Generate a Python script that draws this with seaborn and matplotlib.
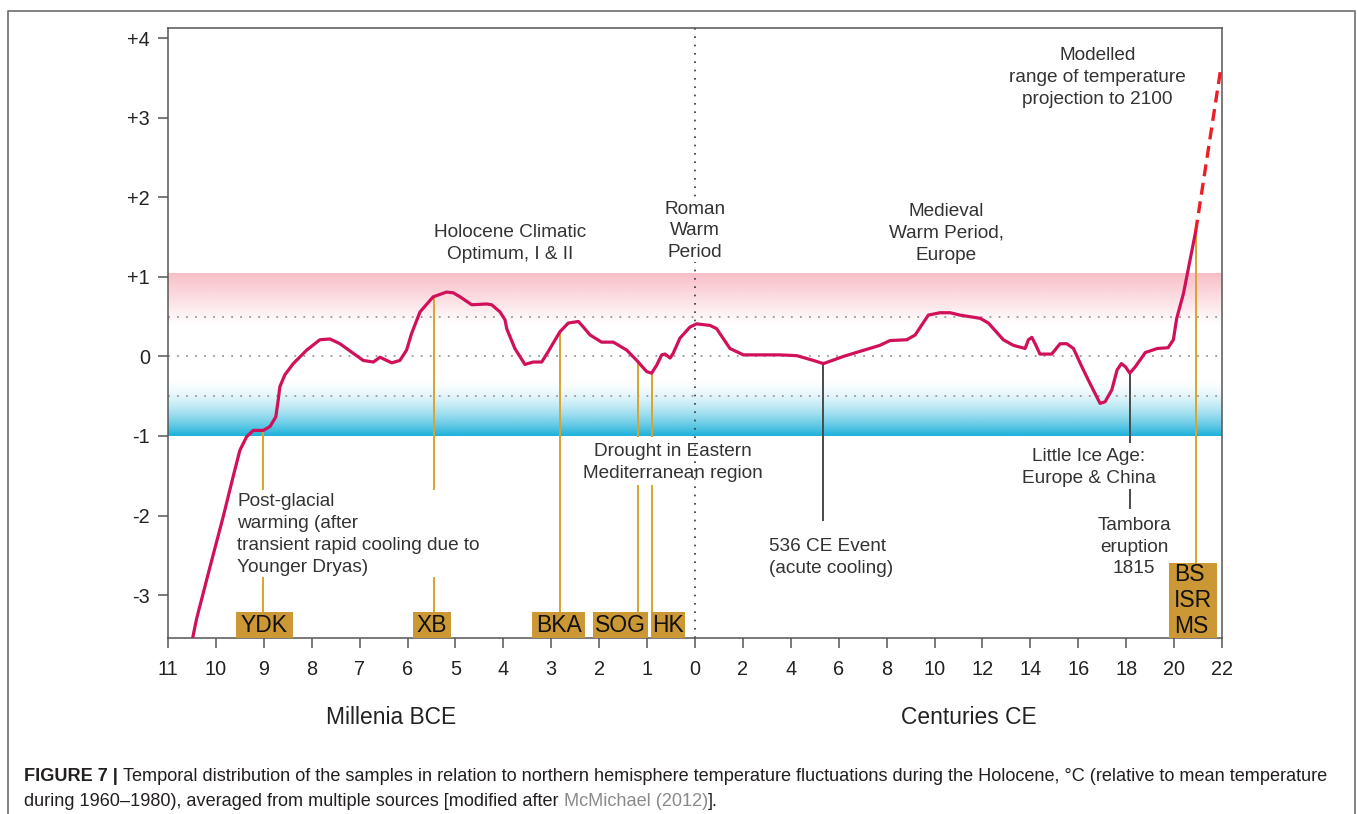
import numpy as np
import pandas as pd
import matplotlib
matplotlib.use("Agg")
import matplotlib.pyplot as plt
from matplotlib.path import Path
from matplotlib import font_manager
import seaborn as sns

# ---------------------------------------------------------------------------
# Data: northern-hemisphere temperature anomaly (°C, relative to the
# 1960–1980 mean). Years BCE are negative.
# ---------------------------------------------------------------------------
years = [-10540, -10400, -10125, -9850, -9640, -9500, -9360, -9220, -9010,
         -8870, -8750, -8700, -8665, -8560, -8385, -8105, -7830, -7620,
         -7410, -7135, -6925, -6715, -6575, -6330, -6160, -6020, -5915,
         -5740, -5465, -5185, -5045, -4905, -4660, -4350, -4245, -4070,
         -3965, -3930, -3760, -3550, -3375, -3200, -3065, -2820, -2645,
         -2435, -2330, -2190, -1950, -1705, -1425, -1215, -1010, -905,
         -800, -695, -625, -520, -455, -315, -105,
         7, 63, 90, 146, 202, 355, 425, 494, 536, 619, 772, 814, 884, 919,
         974, 1023, 1065, 1106, 1190, 1225, 1287, 1329, 1378, 1392, 1406,
         1420, 1440, 1489, 1524, 1552, 1580, 1615, 1649, 1691, 1712, 1740,
         1762, 1780, 1797, 1815, 1838, 1880, 1930, 1975, 1997, 2011, 2039,
         2090]
temps = [-3.70, -3.29, -2.65, -2.02, -1.51, -1.18, -1.01, -0.93, -0.93,
         -0.88, -0.76, -0.55, -0.38, -0.23, -0.09, 0.08, 0.21, 0.22,
         0.16, 0.04, -0.05, -0.07, -0.01, -0.08, -0.05, 0.08, 0.29,
         0.56, 0.75, 0.81, 0.80, 0.75, 0.65, 0.66, 0.65, 0.56,
         0.46, 0.35, 0.10, -0.10, -0.07, -0.07, 0.06, 0.31, 0.42,
         0.44, 0.37, 0.27, 0.18, 0.18, 0.08, -0.05, -0.19, -0.21,
         -0.11, 0.02, 0.03, -0.02, 0.04, 0.23, 0.37,
         0.41, 0.39, 0.35, 0.10, 0.02, 0.02, 0.01, -0.05, -0.09, 0.00, 0.14,
         0.20, 0.21, 0.27, 0.52, 0.55, 0.55, 0.52, 0.48, 0.42, 0.21, 0.14,
         0.10, 0.21, 0.24, 0.16, 0.03, 0.03, 0.16, 0.16, 0.10, -0.13, -0.34,
         -0.59, -0.57, -0.42, -0.17, -0.09, -0.13, -0.21, -0.13, 0.05, 0.10,
         0.11, 0.21, 0.48, 0.79, 1.57]

# Modelled projection
proj_years = [2090, 2195]
proj_temps = [1.57, 3.62]

# Samples and their ages
sample_labels = ["YDK", "XB", "BKA", "SOG", "HK", "BS\nISR\nMS"]
sample_years = [-9010, -5450, -2820, -1180, -890, 2090]

# 536 CE event and the Tambora eruption
event_years = [536, 1815]

bce_ticks = list(range(-11000, 1, 1000))
ce_ticks = list(range(200, 2201, 200))
x_tick_labels = [str(-y // 1000) for y in bce_ticks] + [str(y // 100) for y in ce_ticks]
y_ticks = [4, 3, 2, 1, 0, -1, -2, -3]
y_tick_labels = ["+4", "+3", "+2", "+1", "0", "-1", "-2", "-3"]


# Time axis: millennia before 0, centuries after it, at the same width per unit
def to_axis(y):
    y = np.asarray(y, dtype=float)
    return np.where(y < 0, y / 1000.0, y / 200.0)


def from_axis(u):
    u = np.asarray(u, dtype=float)
    return np.where(u < 0, u * 1000.0, u * 200.0)


sns.set_theme(style="ticks")
plt.rcParams["font.family"] = ["Liberation Sans", "DejaVu Sans"]

W, H = 1357, 814
fig = plt.figure(figsize=(W / 100, H / 100), dpi=100)
fig.patch.set_facecolor("white")


def fx(px):
    return px / W


def fy(py):
    return 1 - py / H


ax = fig.add_axes([fx(168), fy(638), fx(1222) - fx(168), fy(28) - fy(638)])
ax.set_facecolor("white")
ax.set_xscale("function", functions=(to_axis, from_axis))

YMIN, YMAX = -3.54, 4.13


# Warm / cold shading
def gradient_band(lo, hi, rgb, power, solid_top):
    t = np.linspace(0, 1, 300)
    alpha = t ** power if solid_top else (1 - t) ** power
    img = np.zeros((300, 2, 4))
    img[..., :3] = rgb
    img[..., 3] = alpha[:, None]
    ax.imshow(img, extent=[0, 1, lo, hi], origin="lower", aspect="auto",
              interpolation="bilinear", transform=ax.get_yaxis_transform(),
              zorder=0)


gradient_band(0.40, 1.06, (249 / 255, 189 / 255, 198 / 255), 1.0, True)
gradient_band(-1.0, -0.27, (30 / 255, 178 / 255, 218 / 255), 1.8, False)

# Reference levels
for yv in [0.5, 0.0, -0.5]:
    ax.axhline(yv, color="#9a9a9a", lw=1.3, ls=(0, (1, 4)), zorder=1)
ax.axvline(0, color="#333333", lw=1.2, ls=(0, (1, 4)), zorder=1)

# Sample markers (orange) with breaks where the notes sit
sample_gaps = [(-1.68, -2.77), (-1.68, -2.77), None, (-1.01, -1.62), (-1.01, -1.62), None]
for yr, gap in zip(sample_years, sample_gaps):
    top = float(np.interp(yr, years, temps))
    kw = dict(color="#dca32b", lw=1.4, zorder=2)
    if gap:
        ax.vlines(yr, gap[0], top, **kw)
        ax.vlines(yr, YMIN, gap[1], **kw)
    else:
        ax.vlines(yr, YMIN, top, **kw)

# Event markers
event_ends = [-2.07, -1.085]
for yr, end in zip(event_years, event_ends):
    top = float(np.interp(yr, years, temps))
    ax.vlines(yr, end, top, color="#4a4a4a", lw=1.4, zorder=2)
ax.vlines(event_years[1], -1.92, -1.67, color="#4a4a4a", lw=1.4, zorder=2)

# Temperature curve and projection
record = pd.DataFrame({"year": years, "temp": temps})
sns.lineplot(data=record, x="year", y="temp", ax=ax, color="#d1105a",
             linewidth=2.3, estimator=None, zorder=4)
projection = pd.DataFrame({"year": proj_years, "temp": proj_temps})
sns.lineplot(data=projection, x="year", y="temp", ax=ax, color="#ee1d24",
             linewidth=2.4, estimator=None, linestyle=(0, (3.6, 2.0)), zorder=4)

# Period notes (the Roman note masks the dotted year-zero line)
notes = [
    ("Post-glacial\nwarming (after\ntransient rapid cooling due to\nYounger Dryas)", -9555, -1.72, "left", False),
    ("Holocene Climatic\nOptimum, I & II", -3862, 1.665, "center", False),
    ("Roman\nWarm\nPeriod", 0, 1.96, "center", True),
    ("Drought in Eastern\nMediterranean region", -463, -1.09, "center", False),
    ("536 CE Event\n(acute cooling)", 310, -2.28, "left", False),
    ("Medieval\nWarm Period,\nEurope", 1048, 1.93, "center", False),
    ("Modelled\nrange of temperature\nprojection to 2100", 1681, 3.89, "center", False),
    ("Little Ice Age:\nEurope & China", 1644, -1.156, "center", False),
    ("Tambora\neruption\n1815", 1833, -2.016, "center", False),
]
for txt, xv, yv, ha, mask in notes:
    box = dict(boxstyle="square,pad=0.05", fc="white", ec="none") if mask else None
    ax.text(xv, yv, txt, ha=ha, va="top", multialignment=ha, fontsize=13.7,
            color="#333333", linespacing=1.37, zorder=5, bbox=box)


# Sample tags sitting on the time axis
def tag_style(pad_x, pad_y):
    def style(x0, y0, width, height, mutation_size):
        px, py = pad_x * mutation_size, pad_y * mutation_size
        return Path([(x0 - px, y0 - py), (x0 + width + px, y0 - py),
                     (x0 + width + px, y0 + height + py),
                     (x0 - px, y0 + height + py), (x0 - px, y0 - py)],
                    closed=True)
    return style


fs_tag = 16.5
tag_layout = [(1.0, 0.22, 0.06), (-1.7, 0.16, 0.06), (-1.0, 0.16, 0.06),
              (-18.4, 0.09, 0.06), (15.7, 0.06, 0.06), (-2.9, 0.22, 0.0)]
for lab, yr, (dx, padx, pady) in zip(sample_labels, sample_years, tag_layout):
    ax.annotate(lab, xy=(yr, 0), xycoords=ax.get_xaxis_transform(),
                xytext=(dx * 0.72, pady * fs_tag), textcoords="offset points",
                ha="center", va="bottom", multialignment="left",
                fontsize=fs_tag, color="#111111", linespacing=1.16,
                bbox=dict(boxstyle=tag_style(padx, pady), fc="#cc9836", ec="none"),
                zorder=6, annotation_clip=False)

# Axes cosmetics
ax.set_xlim(-11000, 2200)
ax.set_ylim(YMIN, YMAX)
ax.set_xticks(bce_ticks + ce_ticks, x_tick_labels)
ax.set_yticks(y_ticks, y_tick_labels)
ax.set_xlabel("")
ax.set_ylabel("")
ax.tick_params(axis="both", direction="out", length=7, width=1.1,
               color="#555555", labelsize=14.3, labelcolor="#222222")
ax.tick_params(axis="x", pad=9)
ax.tick_params(axis="y", pad=6)
for s in ax.spines.values():
    s.set_color("#555555")
    s.set_linewidth(1.1)
    s.set_visible(True)

fig.text(fx(391.5), fy(718), "Millenia BCE", ha="center", va="center",
         fontsize=16.4, color="#222222")
fig.text(fx(968.5), fy(718), "Centuries CE", ha="center", va="center",
         fontsize=16.4, color="#222222")

# Panel frame (open at the foot)
fig.add_artist(plt.Line2D([fx(8), fx(8), fx(1355), fx(1355)],
                          [fy(H + 2), fy(11), fy(11), fy(H + 2)],
                          transform=fig.transFigure, color="#6d6d6d", lw=1.2))

# Caption
caption_lines = [
    [("FIGURE 7 |", "bold", "#231f20", False),
     ("Temporal distribution of the samples in relation to northern hemisphere "
      "temperature fluctuations during the Holocene, °C (relative to mean temperature",
      "normal", "#231f20", True)],
    [("during 1960–1980), averaged from multiple sources [modified after",
      "normal", "#231f20", False),
     ("McMichael (2012)", "normal", "#8a8a8a", True),
     ("].", "normal", "#231f20", False)],
]
names = {f.name for f in font_manager.fontManager.ttflist}
cap_family = ["Liberation Sans Narrow"] if "Liberation Sans Narrow" in names else ["Liberation Sans"]
renderer = fig.canvas.get_renderer()


def measure(s, size, weight):
    t = fig.text(0, 0, s, fontsize=size, fontweight=weight, family=cap_family)
    w = t.get_window_extent(renderer).width
    t.remove()
    return w


def space_width(size):
    return measure("a a", size, "normal") - measure("aa", size, "normal")


def line_width(pieces, size):
    sp = space_width(size)
    return sum(measure(s, size, wt) + (sp if lead else 0) for s, wt, c, lead in pieces)


base = 11.0
cap_size = base * (1304 / line_width(caption_lines[0], base))
for pieces, base_y in zip(caption_lines, [781, 806]):
    sp = space_width(cap_size)
    x = 24.0
    for s, wt, c, lead in pieces:
        if lead:
            x += sp
        t = fig.text(fx(x), fy(base_y), s, fontsize=cap_size, fontweight=wt,
                     color=c, family=cap_family, va="baseline", ha="left")
        x += t.get_window_extent(renderer).width

fig.savefig("out.png", dpi=100, facecolor="white")
